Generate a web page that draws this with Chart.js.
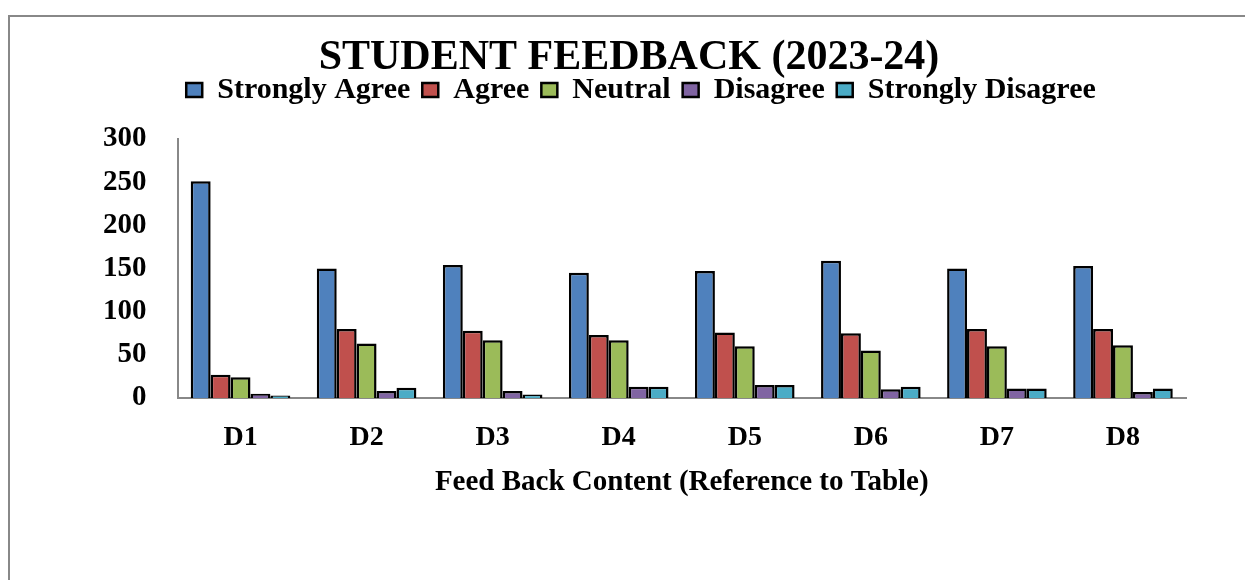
<!DOCTYPE html>
<html>
<head>
<meta charset="utf-8">
<script src="https://cdn.jsdelivr.net/npm/chart.js@4"></script>
<style>
  body { margin: 0; background: #fff; }
  #wrap { position: relative; width: 1245px; height: 580px; overflow: hidden; }
  #frame { position: absolute; left: 8px; top: 15px; width: 1300px; height: 700px;
           border-left: 2px solid #888; border-top: 2px solid #888; }
  #feedbackChart { position: absolute; left: 0; top: 0; }
</style>
</head>
<body>
<div id="wrap">
  <div id="frame"></div>
  <canvas id="feedbackChart" width="1245" height="580"></canvas>
</div>
<script>
// feedback items D1..D8
const categories = ['D1', 'D2', 'D3', 'D4', 'D5', 'D6', 'D7', 'D8'];

// number of students per answer
const stronglyAgree = [251, 150, 154, 145, 147, 159, 150, 153];
const agree = [27, 80, 78, 73, 76, 75, 80, 80];
const neutral = [24, 63, 67, 67, 60, 55, 60, 61];
const disagree = [5, 8, 8, 13, 15, 10, 11, 7];
const stronglyDisagree = [3, 12, 4, 13, 15, 13, 11, 11];

const yTicks = [0, 50, 100, 150, 200, 250, 300];

const serif = '"Liberation Serif", "Times New Roman", serif';

function makeSet(label, data, color) {
    return {
        label: label,
        data: data,
        backgroundColor: color,
        borderColor: '#000',
        borderWidth: 2.5,
        borderSkipped: 'bottom'
    };
}

// extra room under the legend, and nudge it a bit to the right
const legendGap = {
    id: 'legendGap',
    beforeInit(chart) {
        const legend = chart.legend;
        const fit = legend.fit;
        legend.fit = function() {
            fit.call(this);
            this.height += 24;
        };
        const draw = legend.draw;
        legend.draw = function() {
            const c = this.ctx;
            c.save();
            c.translate(12, 0);
            draw.call(this);
            c.restore();
        };
    }
};

document.addEventListener('DOMContentLoaded', function() {
    const ctx = document.getElementById('feedbackChart');
    new Chart(ctx, {
        type: 'bar',
        data: {
            labels: categories,
            datasets: [
                makeSet('Strongly Agree', stronglyAgree, '#4F81BD'),
                makeSet('Agree', agree, '#C0504D'),
                makeSet('Neutral', neutral, '#9BBB59'),
                makeSet('Disagree', disagree, '#8064A2'),
                makeSet('Strongly Disagree', stronglyDisagree, '#4BACC6')
            ]
        },
        options: {
            responsive: false,
            animation: false,
            layout: { padding: { left: 72, right: 59, top: 0, bottom: 83 } },
            datasets: { bar: { barPercentage: 1, categoryPercentage: 0.79 } },
            plugins: {
                tooltip: { enabled: false },
                title: {
                    display: true,
                    text: 'STUDENT FEEDBACK (2023-24)',
                    color: '#000',
                    font: { family: serif, size: 42, weight: 'bold', lineHeight: 0.5 },
                    padding: { top: 48, bottom: -6 }
                },
                legend: {
                    display: true,
                    labels: {
                        color: '#000',
                        font: { family: serif, size: 30, weight: 'bold' },
                        boxWidth: 16,
                        boxHeight: 14,
                        padding: 12
                    }
                }
            },
            scales: {
                x: {
                    grid: { display: false, drawTicks: false },
                    border: { display: true, color: '#888', width: 2 },
                    ticks: {
                        color: '#000',
                        padding: 26,
                        font: { family: serif, size: 28, weight: 'bold', lineHeight: 1 }
                    },
                    title: {
                        display: true,
                        text: 'Feed Back Content (Reference to Table)',
                        color: '#000',
                        font: { family: serif, size: 29, weight: 'bold', lineHeight: 1 },
                        padding: { top: -10, bottom: 0 }
                    }
                },
                y: {
                    min: 0,
                    max: 300,
                    afterBuildTicks: function(axis) {
                        axis.ticks = yTicks.map(v => ({ value: v }));
                    },
                    grid: { display: false, drawTicks: false },
                    border: { display: true, color: '#888', width: 2 },
                    ticks: {
                        color: '#000',
                        padding: 31,
                        font: { family: serif, size: 29, weight: 'bold' }
                    }
                }
            }
        },
        plugins: [legendGap]
    });
});
</script>
</body>
</html>
